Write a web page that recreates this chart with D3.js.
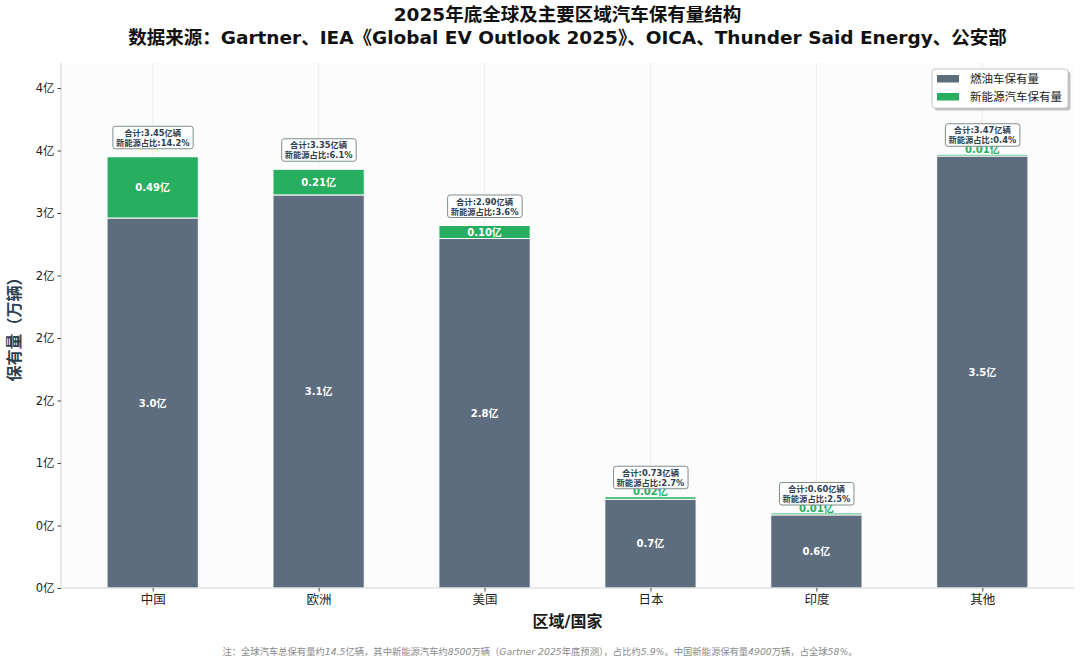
<!DOCTYPE html>
<html>
<head>
<meta charset="utf-8">
<script src="https://cdn.jsdelivr.net/npm/d3@7"></script>
<style>
  body { margin: 0; background: #fff; }
  svg { font-family: "DejaVu Sans", "Noto Sans CJK SC", sans-serif; }
</style>
</head>
<body>
<div id="d3-container"></div>
<script>
// values in 万辆
const regions = ["中国", "欧洲", "美国", "日本", "印度", "其他"];
const fuelStock = [29600, 31445, 27960, 7100, 5850, 34560];
const nevStock = [4900, 2055, 1040, 200, 150, 140];
const yTicks = [0, 5000, 10000, 15000, 20000, 25000, 30000, 35000, 40000];
const yTickLabels = ["0亿", "0亿", "1亿", "2亿", "2亿", "2亿", "3亿", "4亿", "4亿"];
const seriesNames = ["燃油车保有量", "新能源汽车保有量"];
const seriesColors = ["#5d6d7e", "#27ae60"];

const W = 1080, H = 662;
const margin = { top: 63, right: 6, bottom: 74, left: 61 };
const width = W - margin.left - margin.right;
const height = H - margin.top - margin.bottom;

const data = regions.map((r, i) => ({
    region: r,
    fuel: fuelStock[i],
    nev: nevStock[i],
    total: fuelStock[i] + nevStock[i]
}));

const svg = d3.select("#d3-container")
    .append("svg")
    .attr("width", W)
    .attr("height", H);

const g = svg.append("g")
    .attr("transform", "translate(" + margin.left + "," + margin.top + ")");

const xScale = d3.scalePoint()
    .domain(regions)
    .range([0, width])
    .padding(0.5525);
const barW = xScale.step() * 0.55;

const yScale = d3.scaleLinear()
    .domain([0, 42000])
    .range([height, 0]);

// plot background
g.append("rect")
    .attr("width", width)
    .attr("height", height)
    .attr("fill", "#fcfcfc");

// vertical grid
g.selectAll(".grid")
    .data(regions)
    .enter()
    .append("line")
    .attr("x1", d => xScale(d))
    .attr("x2", d => xScale(d))
    .attr("y1", 0)
    .attr("y2", height)
    .attr("stroke", "#ebebeb")
    .attr("stroke-width", 0.8);

// stacked bars
g.selectAll(".fuel")
    .data(data)
    .enter()
    .append("rect")
    .attr("x", d => xScale(d.region) - barW / 2)
    .attr("y", d => yScale(d.fuel))
    .attr("width", barW)
    .attr("height", d => yScale(0) - yScale(d.fuel))
    .attr("fill", seriesColors[0])
    .attr("stroke", "#fff")
    .attr("stroke-width", 1);

g.selectAll(".nev")
    .data(data)
    .enter()
    .append("rect")
    .attr("x", d => xScale(d.region) - barW / 2)
    .attr("y", d => yScale(d.total))
    .attr("width", barW)
    .attr("height", d => yScale(d.fuel) - yScale(d.total))
    .attr("fill", seriesColors[1])
    .attr("stroke", "#fff")
    .attr("stroke-width", 1);

// axes
const yAxis = d3.axisLeft(yScale)
    .tickValues(yTicks)
    .tickFormat((d, i) => yTickLabels[i])
    .tickSize(3.5)
    .tickPadding(3);
const xAxis = d3.axisBottom(xScale)
    .tickSize(3.5)
    .tickPadding(4);

const yG = g.append("g").call(yAxis);
const xG = g.append("g").attr("transform", "translate(0," + height + ")").call(xAxis);
[yG, xG].forEach(a => {
    a.select(".domain").attr("stroke", "#d5d5d5").attr("stroke-width", 1.2);
    a.selectAll(".tick line").attr("stroke", "#444");
    a.selectAll(".tick text").attr("fill", "#222").attr("font-family", "DejaVu Sans, Noto Sans CJK SC");
});
yG.select(".domain").attr("d", "M0," + height + "V0");
xG.select(".domain").attr("d", "M0,0H" + width);
yG.selectAll(".tick text").attr("font-size", 11.5);
xG.selectAll(".tick text").attr("font-size", 12.5);

// value labels inside segments
g.selectAll(".fuelLbl")
    .data(data)
    .enter()
    .append("text")
    .attr("x", d => xScale(d.region))
    .attr("y", d => (yScale(0) + yScale(d.fuel)) / 2)
    .attr("dy", "0.35em")
    .attr("text-anchor", "middle")
    .attr("font-size", 10)
    .attr("font-weight", "bold")
    .attr("fill", "#fff")
    .text(d => (d.fuel / 10000).toFixed(1) + "亿");

// small NEV segments get their label above the bar, mostly under the box
g.selectAll(".nevLbl")
    .data(data)
    .enter()
    .append("text")
    .attr("x", d => xScale(d.region))
    .attr("y", d => d.nev > 500 ? (yScale(d.fuel) + yScale(d.total)) / 2 : yScale(d.total) - 1.5)
    .attr("dy", d => d.nev > 500 ? "0.35em" : "0")
    .attr("text-anchor", "middle")
    .attr("font-size", 10)
    .attr("font-weight", "bold")
    .attr("fill", d => d.nev > 500 ? "#fff" : "#27ae60")
    .text(d => (d.nev / 10000).toFixed(2) + "亿");

// total annotation boxes
const ann = g.selectAll(".ann")
    .data(data)
    .enter()
    .append("g")
    .attr("transform", d => "translate(" + xScale(d.region) + "," + (yScale(d.total) - 8) + ")");

ann.append("rect")
    .attr("fill", "#fff")
    .attr("fill-opacity", 0.9)
    .attr("stroke", "#7f8c8d")
    .attr("stroke-width", 1)
    .attr("rx", 2.5);

const annText = ann.append("text")
    .attr("text-anchor", "middle")
    .attr("font-size", 8.3)
    .attr("font-weight", "bold")
    .attr("fill", "#2c3e50");
annText.append("tspan")
    .attr("x", 0)
    .attr("y", -13)
    .text(d => "合计:" + (d.total / 10000).toFixed(2) + "亿辆");
annText.append("tspan")
    .attr("x", 0)
    .attr("y", -3)
    .text(d => "新能源占比:" + (d.nev / d.total * 100).toFixed(1) + "%");

annText.each(function () {
    const b = this.getBBox();
    d3.select(this.parentNode).select("rect")
        .attr("x", b.x - 3)
        .attr("y", -22.5)
        .attr("width", b.width + 6)
        .attr("height", 22.5);
});

// legend
const lg = svg.append("g").attr("transform", "translate(932,69)");
lg.append("rect")
    .attr("x", 2.5).attr("y", 2.5)
    .attr("width", 136).attr("height", 39)
    .attr("rx", 3)
    .attr("fill", "#9a9a9a")
    .attr("opacity", 0.6);
lg.append("rect")
    .attr("width", 136).attr("height", 39)
    .attr("rx", 3)
    .attr("fill", "#fff")
    .attr("stroke", "#c8c8c8");
seriesNames.forEach((s, i) => {
    lg.append("rect")
        .attr("x", 5).attr("y", 6 + i * 18)
        .attr("width", 22).attr("height", 7.5)
        .attr("fill", seriesColors[i]);
    lg.append("text")
        .attr("x", 38).attr("y", 10 + i * 18)
        .attr("dy", "0.35em")
        .attr("font-size", 11.5)
        .attr("fill", "#222")
        .text(s);
});

// titles
const cx = margin.left + width / 2;
svg.append("text")
    .attr("x", cx).attr("y", 21)
    .attr("text-anchor", "middle")
    .attr("font-size", 18.5)
    .attr("font-weight", "bold")
    .attr("fill", "#111")
    .text("2025年底全球及主要区域汽车保有量结构");
svg.append("text")
    .attr("x", cx).attr("y", 43.5)
    .attr("text-anchor", "middle")
    .attr("font-size", 18.5)
    .attr("font-weight", "bold")
    .attr("fill", "#111")
    .text("数据来源：Gartner、IEA《Global EV Outlook 2025》、OICA、Thunder Said Energy、公安部");

svg.append("text")
    .attr("x", cx).attr("y", 627)
    .attr("text-anchor", "middle")
    .attr("font-size", 16)
    .attr("font-weight", "bold")
    .attr("fill", "#1a1a1a")
    .text("区域/国家");

svg.append("text")
    .attr("transform", "translate(20," + (margin.top + height / 2) + ") rotate(-90)")
    .attr("text-anchor", "middle")
    .attr("font-size", 16)
    .attr("font-weight", "bold")
    .attr("fill", "#2c3e50")
    .text("保有量（万辆）");

// footnote, latin parts in italic
const note = "注：全球汽车总保有量约14.5亿辆，其中新能源汽车约8500万辆（Gartner 2025年底预测），占比约5.9%。中国新能源保有量4900万辆，占全球58%。";
const noteT = svg.append("text")
    .attr("x", 540).attr("y", 655)
    .attr("text-anchor", "middle")
    .attr("font-size", 9.3)
    .attr("fill", "#8a8a8a");
note.split(/([\x20-\x7E]+)/).filter(s => s.length).forEach(s => {
    noteT.append("tspan")
        .attr("font-style", /[\x20-\x7E]/.test(s[0]) ? "italic" : "normal")
        .text(s);
});
</script>
</body>
</html>
